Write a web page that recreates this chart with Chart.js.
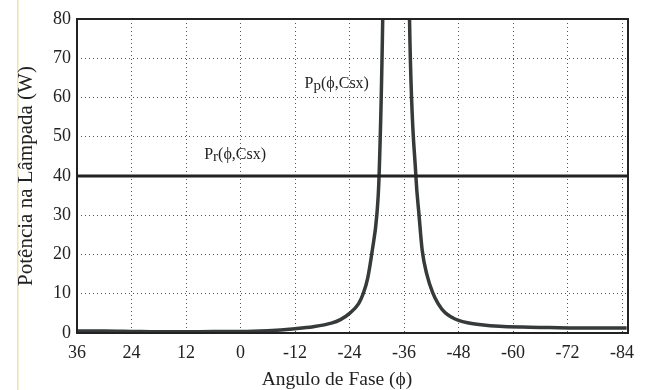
<!DOCTYPE html>
<html>
<head>
<meta charset="utf-8">
<script src="https://cdn.jsdelivr.net/npm/chart.js@4/dist/chart.umd.min.js"></script>
<style>
    html, body { margin: 0; padding: 0; background: #fff; }
    #wrap { width: 646px; height: 390px; position: relative; }
</style>
</head>
<body>
<div id="wrap"><canvas id="chart"></canvas></div>
<script>
// Tick labels
const angleTicks = [36, 24, 12, 0, -12, -24, -36, -48, -60, -72, -84];
const powerTicks = [0, 10, 20, 30, 40, 50, 60, 70, 80];

// Pp(phi, Csx) - lamp power (peak goes off the top)
const ppAngles = [36, 30, 24, 18, 12, 6, 0, -6, -12, -16, -20, -22, -24, -26, -27, -28, -29, -30, -30.5,
    -31.3, -32.5, -34.2, -36, -37.2, -38.6, -39.3, -40, -41, -42.3, -43.5, -45, -46.5, -48, -50, -53, -57, -62, -68, -74, -80, -85];
const ppValues = [0.5, 0.5, 0.4, 0.3, 0.3, 0.4, 0.4, 0.6, 1.1, 1.6, 2.5, 3.4, 5.0, 7.5, 10, 14, 21, 30, 40,
    80, 200, 300, 200, 80, 40, 30, 21, 15, 10.3, 7.5, 5.2, 4.0, 3.2, 2.6, 2.1, 1.7, 1.5, 1.4, 1.3, 1.3, 1.3];

// Pr(phi, Csx) - rated power
const prAngles = [36, -85.3];
const prValues = [40, 40];

// Curve labels: [text, subscript, angle, power]
const curveLabels = [
    ['P', 'p', -14.1, 63.5],
    ['P', 'r', 8, 45.4]
];

const xTitle = 'Angulo de Fase (\u03D5)';
const serif = "'Liberation Serif', 'Times New Roman', serif";

const framePlugin = {
    id: 'frame',
    beforeDraw(chart) {
        const ctx = chart.ctx;
        ctx.save();
        ctx.fillStyle = '#fff';
        ctx.fillRect(0, 0, chart.width, chart.height);
        // faint scan edge on the left
        ctx.fillStyle = '#f3e4a6';
        ctx.fillRect(17, 0, 1.5, chart.height);
        ctx.restore();
    },
    afterDatasetsDraw(chart) {
        const { ctx, chartArea, scales } = chart;
        ctx.save();
        ctx.strokeStyle = '#222';
        ctx.lineWidth = 2;
        ctx.strokeRect(chartArea.left, chartArea.top, chartArea.right - chartArea.left, chartArea.bottom - chartArea.top);

        ctx.fillStyle = '#222';
        ctx.textBaseline = 'middle';
        ctx.textAlign = 'left';
        curveLabels.forEach(([main, sub, a, p]) => {
            let x = scales.x.getPixelForValue(a);
            const y = scales.y.getPixelForValue(p);
            ctx.font = '16px ' + serif;
            ctx.fillText(main, x, y);
            x += ctx.measureText(main).width;
            ctx.font = '15px ' + serif;
            ctx.fillText(sub, x, y + 2);
            x += ctx.measureText(sub).width;
            ctx.font = '16px ' + serif;
            ctx.fillText('(\u03D5,Csx)', x, y);
        });

        // x axis title, sitting a little left of the plot centre as in the scan
        ctx.font = '19.5px ' + serif;
        ctx.textAlign = 'center';
        ctx.fillText(xTitle, 337, 380);
        ctx.restore();
    }
};

new Chart(document.getElementById('chart'), {
    type: 'line',
    data: {
        datasets: [
            {
                label: 'Pr',
                data: prAngles.map((a, i) => ({ x: a, y: prValues[i] })),
                borderColor: '#222',
                borderWidth: 3,
                pointRadius: 0
            },
            {
                label: 'Pp',
                data: ppAngles.map((a, i) => ({ x: a, y: ppValues[i] })),
                borderColor: '#363a3a',
                borderWidth: 3.5,
                pointRadius: 0,
                cubicInterpolationMode: 'monotone'
            }
        ]
    },
    options: {
        responsive: true,
        maintainAspectRatio: false,
        animation: false,
        layout: { padding: { top: 19, right: 18, left: 0, bottom: 0 } },
        plugins: {
            legend: { display: false },
            tooltip: { enabled: false }
        },
        scales: {
            x: {
                type: 'linear',
                reverse: true,
                min: -85.3,
                max: 36,
                afterBuildTicks: s => { s.ticks = angleTicks.map(v => ({ value: v })); },
                afterFit: s => { s.height = 57; },
                grid: { color: '#555', lineWidth: 1, drawTicks: false },
                border: { display: false, dash: [1, 3] },
                ticks: {
                    padding: 9,
                    color: '#222',
                    font: { family: serif, size: 18 },
                    maxRotation: 0,
                    callback: v => String(v)
                }
            },
            y: {
                min: 0,
                max: 80,
                afterBuildTicks: s => { s.ticks = powerTicks.map(v => ({ value: v })); },
                afterFit: s => { s.width = 77; },
                grid: { color: '#555', lineWidth: 1, drawTicks: false },
                border: { display: false, dash: [1, 3] },
                ticks: {
                    padding: 6,
                    color: '#222',
                    font: { family: serif, size: 18 },
                    callback: v => String(v)
                },
                title: {
                    display: true,
                    text: 'Potência na Lâmpada (W)',
                    color: '#222',
                    font: { family: serif, size: 21 },
                    padding: { top: 14, bottom: 0 }
                }
            }
        }
    },
    plugins: [framePlugin]
});
</script>
</body>
</html>
